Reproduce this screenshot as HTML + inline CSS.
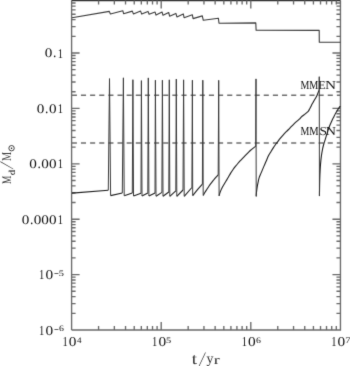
<!DOCTYPE html>
<html><head><meta charset="utf-8"><style>
html,body{margin:0;padding:0;background:#fff;}
body{width:350px;height:366px;overflow:hidden;font-family:"Liberation Serif",serif;}
svg{display:block;filter:grayscale(1);}
</style></head><body><svg width="350" height="366" viewBox="0 0 350 366"><defs><filter id="b" filterUnits="userSpaceOnUse" x="0" y="0" width="350" height="366" color-interpolation-filters="sRGB"><feConvolveMatrix order="3" kernelMatrix="0.01134 0.08382 0.01134 0.08382 0.61935 0.08382 0.01134 0.08382 0.01134" divisor="1" edgeMode="duplicate" preserveAlpha="true"/></filter></defs><rect width="350" height="366" fill="#fff"/><g filter="url(#b)"><rect width="350" height="366" fill="#fff"/><path d="M71.60 330.00H340.45V0.60M71.60 330.00V0.60" fill="none" stroke="#6a6a6a" stroke-width="1.35"/><line x1="71.60" y1="0.60" x2="340.45" y2="0.60" stroke="#333" stroke-width="1.2"/><path d="M71.60 313.32h4M340.45 313.32h-4M71.60 303.57h4M340.45 303.57h-4M71.60 296.65h4M340.45 296.65h-4M71.60 291.28h4M340.45 291.28h-4M71.60 286.89h4M340.45 286.89h-4M71.60 283.18h4M340.45 283.18h-4M71.60 279.97h4M340.45 279.97h-4M71.60 277.13h4M340.45 277.13h-4M71.60 274.60h8M340.45 274.60h-8M71.60 257.92h4M340.45 257.92h-4M71.60 248.17h4M340.45 248.17h-4M71.60 241.25h4M340.45 241.25h-4M71.60 235.88h4M340.45 235.88h-4M71.60 231.49h4M340.45 231.49h-4M71.60 227.78h4M340.45 227.78h-4M71.60 224.57h4M340.45 224.57h-4M71.60 221.73h4M340.45 221.73h-4M71.60 219.20h8M340.45 219.20h-8M71.60 202.52h4M340.45 202.52h-4M71.60 192.77h4M340.45 192.77h-4M71.60 185.85h4M340.45 185.85h-4M71.60 180.48h4M340.45 180.48h-4M71.60 176.09h4M340.45 176.09h-4M71.60 172.38h4M340.45 172.38h-4M71.60 169.17h4M340.45 169.17h-4M71.60 166.33h4M340.45 166.33h-4M71.60 163.80h8M340.45 163.80h-8M71.60 147.12h4M340.45 147.12h-4M71.60 137.37h4M340.45 137.37h-4M71.60 130.45h4M340.45 130.45h-4M71.60 125.08h4M340.45 125.08h-4M71.60 120.69h4M340.45 120.69h-4M71.60 116.98h4M340.45 116.98h-4M71.60 113.77h4M340.45 113.77h-4M71.60 110.93h4M340.45 110.93h-4M71.60 108.40h8M340.45 108.40h-8M71.60 91.72h4M340.45 91.72h-4M71.60 81.97h4M340.45 81.97h-4M71.60 75.05h4M340.45 75.05h-4M71.60 69.68h4M340.45 69.68h-4M71.60 65.29h4M340.45 65.29h-4M71.60 61.58h4M340.45 61.58h-4M71.60 58.37h4M340.45 58.37h-4M71.60 55.53h4M340.45 55.53h-4M71.60 53.00h8M340.45 53.00h-8M71.60 36.32h4M340.45 36.32h-4M71.60 26.57h4M340.45 26.57h-4M71.60 19.65h4M340.45 19.65h-4M71.60 14.28h4M340.45 14.28h-4M71.60 9.89h4M340.45 9.89h-4M71.60 6.18h4M340.45 6.18h-4M71.60 2.97h4M340.45 2.97h-4M98.57 330.00v-4M98.57 0.60v4M114.35 330.00v-4M114.35 0.60v4M125.54 330.00v-4M125.54 0.60v4M134.23 330.00v-4M134.23 0.60v4M141.32 330.00v-4M141.32 0.60v4M147.32 330.00v-4M147.32 0.60v4M152.52 330.00v-4M152.52 0.60v4M157.10 330.00v-4M157.10 0.60v4M161.20 330.00v-8M161.20 0.60v8M188.17 330.00v-4M188.17 0.60v4M203.95 330.00v-4M203.95 0.60v4M215.14 330.00v-4M215.14 0.60v4M223.83 330.00v-4M223.83 0.60v4M230.92 330.00v-4M230.92 0.60v4M236.92 330.00v-4M236.92 0.60v4M242.12 330.00v-4M242.12 0.60v4M246.70 330.00v-4M246.70 0.60v4M250.80 330.00v-8M250.80 0.60v8M277.77 330.00v-4M277.77 0.60v4M293.55 330.00v-4M293.55 0.60v4M304.74 330.00v-4M304.74 0.60v4M313.43 330.00v-4M313.43 0.60v4M320.52 330.00v-4M320.52 0.60v4M326.52 330.00v-4M326.52 0.60v4M331.72 330.00v-4M331.72 0.60v4M336.30 330.00v-4M336.30 0.60v4" fill="none" stroke="#6a6a6a" stroke-width="1.35"/><line x1="71.8" y1="95.3" x2="340.45" y2="95.3" stroke="#6e6e6e" stroke-width="1.5" stroke-dasharray="5.1 4.04"/><line x1="71.8" y1="143.0" x2="340.45" y2="143.0" stroke="#6e6e6e" stroke-width="1.5" stroke-dasharray="5.1 4.04"/><polyline points="72.00,17.70 109.30,11.40 110.40,14.00 122.80,10.70 123.60,13.70 132.30,11.10 133.40,13.90 140.60,11.10 141.70,14.10 148.00,11.40 149.10,14.30 155.10,12.10 156.00,15.10 162.10,12.10 163.00,15.30 168.70,12.50 169.60,16.20 175.90,13.40 176.90,16.90 183.30,13.90 184.10,17.70 192.30,14.70 193.10,18.60 202.30,15.90 203.30,20.30 218.40,18.20 219.00,23.30 255.80,22.90 256.10,30.30 319.20,30.40 319.30,42.30 340.45,42.30" fill="none" stroke="#3a3a3a" stroke-width="1.1" stroke-linejoin="round"/><path d="M72.00 193.10 L108.30 190.20M110.60 195.60 L122.30 193.00M124.20 195.80 L132.30 193.10M133.50 196.00 L141.00 193.30M142.00 196.00 L147.80 192.90M148.90 196.00 L155.00 193.00M156.00 196.20 L161.90 192.40M163.00 196.30 L168.80 192.00M169.80 196.30 L175.80 190.90M176.80 196.30 L183.00 190.00M184.20 196.30 L191.90 187.50M192.70 195.60 L197.70 189.40 L202.40 184.10M203.20 195.40C203.50 194.87 204.35 193.27 205.00 192.20C205.65 191.13 206.40 190.07 207.10 189.00C207.80 187.93 208.50 186.80 209.20 185.80C209.90 184.80 210.58 183.93 211.30 183.00C212.02 182.07 212.78 181.08 213.50 180.20C214.22 179.32 214.82 178.58 215.60 177.70C216.38 176.82 217.77 175.37 218.20 174.90M219.10 195.90C219.23 195.40 219.57 193.90 219.90 192.90C220.23 191.90 220.65 190.92 221.10 189.90C221.55 188.88 222.05 187.82 222.60 186.80C223.15 185.78 223.80 184.80 224.40 183.80C225.00 182.80 225.55 181.88 226.20 180.80C226.85 179.72 227.58 178.53 228.30 177.30C229.02 176.07 229.73 174.67 230.50 173.40C231.27 172.13 232.08 170.87 232.90 169.70C233.72 168.53 234.58 167.43 235.40 166.40C236.22 165.37 236.98 164.45 237.80 163.50C238.62 162.55 239.47 161.58 240.30 160.70C241.13 159.82 241.98 159.03 242.80 158.20C243.62 157.37 244.18 156.77 245.20 155.70C246.22 154.63 247.87 152.82 248.90 151.80C249.93 150.78 250.57 150.30 251.40 149.60C252.23 148.90 253.18 148.15 253.90 147.60C254.62 147.05 255.40 146.52 255.70 146.30M256.20 196.40C256.23 195.88 256.28 194.55 256.40 193.30C256.52 192.05 256.72 190.27 256.90 188.90C257.08 187.53 257.27 186.37 257.50 185.10C257.73 183.83 258.03 182.52 258.30 181.30C258.57 180.08 258.67 179.12 259.10 177.80C259.53 176.48 260.32 174.80 260.90 173.40C261.48 172.00 262.03 170.73 262.60 169.40C263.17 168.07 263.72 166.77 264.30 165.40C264.88 164.03 265.38 162.83 266.10 161.20C266.82 159.57 267.80 157.18 268.60 155.60C269.40 154.02 270.15 152.95 270.90 151.70C271.65 150.45 272.35 149.27 273.10 148.10C273.85 146.93 274.65 145.73 275.40 144.70C276.15 143.67 276.83 142.92 277.60 141.90C278.37 140.88 279.05 139.78 280.00 138.60C280.95 137.42 282.20 136.00 283.30 134.80C284.40 133.60 285.50 132.52 286.60 131.40C287.70 130.28 288.82 129.20 289.90 128.10C290.98 127.00 292.02 125.87 293.10 124.80C294.18 123.73 295.30 122.68 296.40 121.70C297.50 120.72 298.87 119.70 299.70 118.90C300.53 118.10 300.63 117.62 301.40 116.90C302.17 116.18 303.35 115.37 304.30 114.60C305.25 113.83 306.38 112.92 307.10 112.30C307.82 111.68 308.12 111.58 308.60 110.90C309.08 110.22 309.53 109.12 310.00 108.20C310.47 107.28 310.92 106.32 311.40 105.40C311.88 104.48 312.47 103.48 312.90 102.70C313.33 101.92 313.52 101.53 314.00 100.70C314.48 99.87 315.25 98.70 315.80 97.70C316.35 96.70 316.85 95.72 317.30 94.70C317.75 93.68 318.20 92.37 318.50 91.60C318.80 90.83 319.00 90.35 319.10 90.10M319.45 196.10C319.48 194.25 319.53 188.52 319.60 185.00C319.68 181.48 319.75 178.42 319.90 175.00C320.05 171.58 320.25 167.67 320.50 164.50C320.75 161.33 321.07 158.53 321.40 156.00C321.73 153.47 322.10 151.30 322.50 149.30C322.90 147.30 323.35 145.62 323.80 144.00C324.25 142.38 324.68 141.27 325.20 139.60C325.72 137.93 326.33 135.83 326.90 134.00C327.47 132.17 328.03 130.22 328.60 128.60C329.17 126.98 329.73 125.65 330.30 124.30C330.87 122.95 331.42 121.73 332.00 120.50C332.58 119.27 333.22 118.05 333.80 116.90C334.38 115.75 334.88 114.73 335.50 113.60C336.12 112.47 336.82 111.23 337.50 110.10C338.18 108.97 339.11 107.45 339.60 106.80C340.09 106.15 340.31 106.30 340.45 106.20" fill="none" stroke="#1e1e1e" stroke-width="1.1" stroke-linejoin="round"/><path d="M108.30 190.20L109.50 78.60L110.60 195.60M122.30 193.00L123.40 77.80L124.20 195.80M132.30 193.10L132.90 79.70L133.50 196.00M141.00 193.30L141.40 80.60L142.00 196.00M147.80 192.90L148.30 77.90L148.90 196.00M155.00 193.00L155.40 80.20L156.00 196.20M161.90 192.40L162.40 80.20L163.00 196.30M168.80 192.00L169.30 79.80L169.80 196.30M175.80 190.90L176.30 79.10L176.80 196.30M183.00 190.00L183.60 79.80L184.20 196.30M191.90 187.50L192.40 80.20L192.70 195.60M202.40 184.10L202.80 80.20L203.20 195.40M218.20 174.90L218.70 80.30L219.10 195.90M255.70 146.30L256.00 78.90L256.20 196.40M319.10 90.10L319.25 76.70L319.45 196.10" fill="none" stroke="#3a3a3a" stroke-width="1.0" stroke-linejoin="miter"/><g font-family="Liberation Serif" text-rendering="geometricPrecision" stroke="#000" stroke-width="0" stroke-linejoin="round"><text transform="translate(44.82 57.37) scale(0.1510 0.1304)" font-size="100" fill="#111">0</text><text transform="translate(53.01 57.30) scale(0.1354 0.1439)" font-size="100" fill="#111">.</text><text transform="translate(57.78 57.50) scale(0.1051 0.1333)" font-size="100" fill="#111">1</text><text transform="translate(36.82 112.77) scale(0.1510 0.1304)" font-size="100" fill="#111">0</text><text transform="translate(45.01 112.70) scale(0.1354 0.1439)" font-size="100" fill="#111">.</text><text transform="translate(48.92 112.77) scale(0.1510 0.1304)" font-size="100" fill="#111">0</text><text transform="translate(57.78 112.90) scale(0.1051 0.1333)" font-size="100" fill="#111">1</text><text transform="translate(29.27 168.17) scale(0.1510 0.1304)" font-size="100" fill="#111">0</text><text transform="translate(37.46 168.10) scale(0.1354 0.1439)" font-size="100" fill="#111">.</text><text transform="translate(41.37 168.17) scale(0.1510 0.1304)" font-size="100" fill="#111">0</text><text transform="translate(48.92 168.17) scale(0.1510 0.1304)" font-size="100" fill="#111">0</text><text transform="translate(57.78 168.30) scale(0.1051 0.1333)" font-size="100" fill="#111">1</text><text transform="translate(21.72 223.57) scale(0.1510 0.1304)" font-size="100" fill="#111">0</text><text transform="translate(29.91 223.50) scale(0.1354 0.1439)" font-size="100" fill="#111">.</text><text transform="translate(33.82 223.57) scale(0.1510 0.1304)" font-size="100" fill="#111">0</text><text transform="translate(41.37 223.57) scale(0.1510 0.1304)" font-size="100" fill="#111">0</text><text transform="translate(48.92 223.57) scale(0.1510 0.1304)" font-size="100" fill="#111">0</text><text transform="translate(57.78 223.70) scale(0.1051 0.1333)" font-size="100" fill="#111">1</text><text transform="translate(39.08 279.35) scale(0.1051 0.1378)" font-size="100" fill="#111">1</text><text transform="translate(45.42 279.22) scale(0.1534 0.1349)" font-size="100" fill="#111">0</text><text transform="translate(54.07 278.27) scale(0.0860 0.1405)" font-size="100" fill="#111">−</text><text transform="translate(58.69 275.57) scale(0.1043 0.0843)" font-size="100" fill="#111">5</text><text transform="translate(39.08 334.75) scale(0.1051 0.1378)" font-size="100" fill="#111">1</text><text transform="translate(45.42 334.62) scale(0.1534 0.1349)" font-size="100" fill="#111">0</text><text transform="translate(54.07 333.67) scale(0.0860 0.1405)" font-size="100" fill="#111">−</text><text transform="translate(58.88 330.97) scale(0.0983 0.0833)" font-size="100" fill="#111">6</text><text transform="translate(62.48 346.30) scale(0.1051 0.1378)" font-size="100" fill="#111">1</text><text transform="translate(68.82 346.17) scale(0.1534 0.1349)" font-size="100" fill="#111">0</text><text transform="translate(76.92 342.60) scale(0.0904 0.0851)" font-size="100" fill="#111">4</text><text transform="translate(152.08 346.30) scale(0.1051 0.1378)" font-size="100" fill="#111">1</text><text transform="translate(158.42 346.17) scale(0.1534 0.1349)" font-size="100" fill="#111">0</text><text transform="translate(166.09 342.52) scale(0.1043 0.0843)" font-size="100" fill="#111">5</text><text transform="translate(241.68 346.30) scale(0.1051 0.1378)" font-size="100" fill="#111">1</text><text transform="translate(248.02 346.17) scale(0.1534 0.1349)" font-size="100" fill="#111">0</text><text transform="translate(255.88 342.52) scale(0.0983 0.0833)" font-size="100" fill="#111">6</text><text transform="translate(331.28 346.30) scale(0.1051 0.1378)" font-size="100" fill="#111">1</text><text transform="translate(337.62 346.17) scale(0.1534 0.1349)" font-size="100" fill="#111">0</text><text transform="translate(345.22 342.60) scale(0.1036 0.0855)" font-size="100" fill="#111">7</text><text transform="translate(191.81 363.54) scale(0.1907 0.1589)" font-size="100" fill="#333" stroke="none">t</text><text transform="matrix(0.1331 0 -0.0508 0.2048 198.65 366.40)" font-size="100" fill="#111">/</text><text transform="translate(206.53 363.49) scale(0.1385 0.1393)" font-size="100" fill="#333" stroke="none">y</text><text transform="translate(213.64 363.50) scale(0.1808 0.1273)" font-size="100" fill="#333" stroke="none">r</text><text transform="translate(300.61 88.90) scale(0.0999 0.1222)" font-size="100" fill="#111">M</text><text transform="translate(309.31 88.90) scale(0.1011 0.1222)" font-size="100" fill="#111">M</text><text transform="translate(318.26 88.90) scale(0.1184 0.1222)" font-size="100" fill="#111">E</text><text transform="translate(324.96 88.90) scale(0.1536 0.1222)" font-size="100" fill="#111">N</text><text transform="translate(300.61 135.40) scale(0.0999 0.1222)" font-size="100" fill="#111">M</text><text transform="translate(309.29 135.40) scale(0.1059 0.1222)" font-size="100" fill="#111">M</text><text transform="translate(319.41 135.38) scale(0.1334 0.1220)" font-size="100" fill="#111">S</text><text transform="translate(325.79 135.40) scale(0.1417 0.1222)" font-size="100" fill="#111">N</text><g transform="rotate(-90)"><text transform="translate(-184.07 10.70) scale(0.0939 0.1313)" font-size="100" fill="#3a3a3a">M</text><text transform="translate(-175.29 14.51) scale(0.1085 0.0910)" font-size="100" fill="#000">d</text><text transform="matrix(0.1244 0 -0.0679 0.1913 -169.33 12.61)" font-size="100" fill="#111">/</text><text transform="translate(-161.09 10.70) scale(0.1023 0.1359)" font-size="100" fill="#3a3a3a">M</text></g><circle cx="11.55" cy="148.2" r="2.7" fill="none" stroke="#111" stroke-width="0.8"/><circle cx="11.55" cy="148.2" r="0.75" fill="#111" stroke="none"/></g></g></svg></body></html>
